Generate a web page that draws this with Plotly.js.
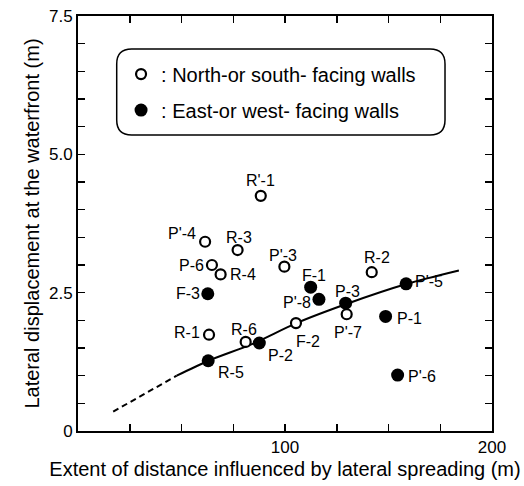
<!DOCTYPE html>
<html>
<head>
<meta charset="utf-8">
<script src="https://cdn.plot.ly/plotly-3.0.1.min.js"></script>
<style>
  html, body { margin: 0; padding: 0; background: #fff; }
  #chart { width: 524px; height: 486px; }
</style>
</head>
<body>
<div id="chart"></div>
<script>
// North- or south-facing walls (open circles)
const nsLabels = ["R'-1", "P'-4", "R-3", "P-6", "R-4", "P'-3", "R-2", "P'-7", "F-2", "R-6", "R-1"];
const nsX      = [88.3, 61.4, 77.1, 64.7, 68.9, 99.7, 141.9, 129.8, 105.3, 81.0, 63.3];
const nsY      = [4.25, 3.42, 3.27, 3.00, 2.83, 2.97, 2.87, 2.11, 1.95, 1.61, 1.74];

// East- or west-facing walls (filled circles)
const ewLabels = ["F-3", "F-1", "P'-8", "P-3", "P'-5", "P-1", "P'-6", "P-2", "R-5"];
const ewX      = [62.7, 112.4, 116.4, 129.3, 158.5, 148.6, 154.4, 87.6, 62.9];
const ewY      = [2.48, 2.60, 2.38, 2.31, 2.66, 2.07, 1.01, 1.59, 1.27];

// Trend curve
const curveDashX  = [17.0, 47.7];
const curveDashY  = [0.35, 1.00];
const curveSolidX = [47.7, 63.0, 84.0, 105.5, 130.0, 159.0, 184.0];
const curveSolidY = [1.00, 1.27, 1.57, 1.95, 2.30, 2.66, 2.90];

// Axis ticks
const xTickVals = [0, 100, 200];
const xTickText = ["", "100", "200"];
const yTickVals = [0, 2.5, 5, 7.5];
const yTickText = ["0", "2.5", "5.0", "7.5"];

// label offsets in pixels (dx, dy up)
const labelOffsets = {
  "R'-1": [0, 15], "P'-4": [-23, 8], "R-3": [1, 13], "P-6": [-20, 0], "R-4": [22, 0],
  "P'-3": [-1, 11], "R-2": [5, 15], "P'-7": [1, -18], "F-2": [12, -18], "R-6": [-2, 12],
  "R-1": [-22, 2], "F-3": [-20, 0], "F-1": [3, 12], "P'-8": [-22, -3], "P-3": [2, 12],
  "P'-5": [23, 2], "P-1": [24, -2], "P'-6": [24, -1], "P-2": [21, -12], "R-5": [23, -12]
};

const FONT = "Liberation Sans, Arial, Helvetica, sans-serif";

const traces = [
  { x: curveDashX, y: curveDashY, mode: 'lines', line: {color: '#000', width: 2, dash: '6px,4px'},
    showlegend: false, hoverinfo: 'skip' },
  { x: curveSolidX, y: curveSolidY, mode: 'lines', line: {color: '#000', width: 2, shape: 'spline', smoothing: 0.8},
    showlegend: false, hoverinfo: 'skip' },
  { x: nsX, y: nsY, text: nsLabels, mode: 'markers', name: ': North-or south- facing walls',
    legendgroup: 'a',
    marker: {symbol: 'circle', size: 10, color: '#fff', line: {color: '#000', width: 2.2}} },
  { x: ewX, y: ewY, text: ewLabels, mode: 'markers', name: ': East-or west- facing walls',
    legendgroup: 'b',
    marker: {symbol: 'circle', size: 13, color: '#000', line: {color: '#000', width: 0}} }
];

const annotations = [];
function addLabels(labels, xs, ys) {
  labels.forEach((t, i) => {
    const o = labelOffsets[t];
    annotations.push({ x: xs[i], y: ys[i], text: t, showarrow: false,
      xshift: o[0], yshift: o[1], font: {family: FONT, size: 16, color: '#000'} });
  });
}
addLabels(nsLabels, nsX, nsY);
addLabels(ewLabels, ewX, ewY);

// rounded legend box (paper coords)
const bx0 = 0.0935, bx1 = 0.8865, byT = 0.9205, byB = 0.7133, rx = 0.036, ry = 0.036;
const boxPath = `M ${bx0+rx},${byT} L ${bx1-rx},${byT} Q ${bx1},${byT} ${bx1},${byT-ry} ` +
  `L ${bx1},${byB+ry} Q ${bx1},${byB} ${bx1-rx},${byB} L ${bx0+rx},${byB} ` +
  `Q ${bx0},${byB} ${bx0},${byB+ry} L ${bx0},${byT-ry} Q ${bx0},${byT} ${bx0+rx},${byT} Z`;

const axisCommon = {
  showline: true, linecolor: '#000', linewidth: 2, mirror: 'ticks',
  ticks: 'inside', ticklen: 7, tickwidth: 1.5, tickcolor: '#000',
  showgrid: false, zeroline: false, fixedrange: true,
  tickfont: {family: FONT, size: 17, color: '#000'}
};

const layout = {
  width: 524, height: 486,
  margin: {l: 78, r: 32, t: 16, b: 55},
  paper_bgcolor: '#fff', plot_bgcolor: '#fff',
  font: {family: FONT, color: '#000'},
  xaxis: Object.assign({}, axisCommon, {
    range: [0, 200], tickmode: 'array', tickvals: xTickVals, ticktext: xTickText,
    minor: {tickmode: 'linear', tick0: 0, dtick: 25, ticks: 'inside', ticklen: 7, tickwidth: 1.5, tickcolor: '#000'},
    title: {text: 'Extent of distance influenced by lateral spreading (m)', font: {family: FONT, size: 20, color: '#000'}, standoff: 6}
  }),
  yaxis: Object.assign({}, axisCommon, {
    range: [0, 7.5], tickmode: 'array', tickvals: yTickVals, ticktext: yTickText,
    minor: {tickmode: 'linear', tick0: 0, dtick: 0.5, ticks: 'inside', ticklen: 7, tickwidth: 1.5, tickcolor: '#000'},
    title: {text: 'Lateral displacement at the waterfront (m)', font: {family: FONT, size: 20, color: '#000'}, standoff: 4}
  }),
  showlegend: true,
  legend: {x: 0.104, y: 0.907, xanchor: 'left', yanchor: 'top', bgcolor: 'rgba(0,0,0,0)',
    borderwidth: 0, traceorder: 'grouped', tracegroupgap: 7,
    font: {family: FONT, size: 20, color: '#000'}},
  shapes: [{type: 'path', xref: 'paper', yref: 'paper', path: boxPath,
    line: {color: '#000', width: 1.5}, fillcolor: 'rgba(0,0,0,0)'}],
  annotations: annotations
};

Plotly.newPlot('chart', traces, layout, {displayModeBar: false, staticPlot: true});
</script>
</body>
</html>
